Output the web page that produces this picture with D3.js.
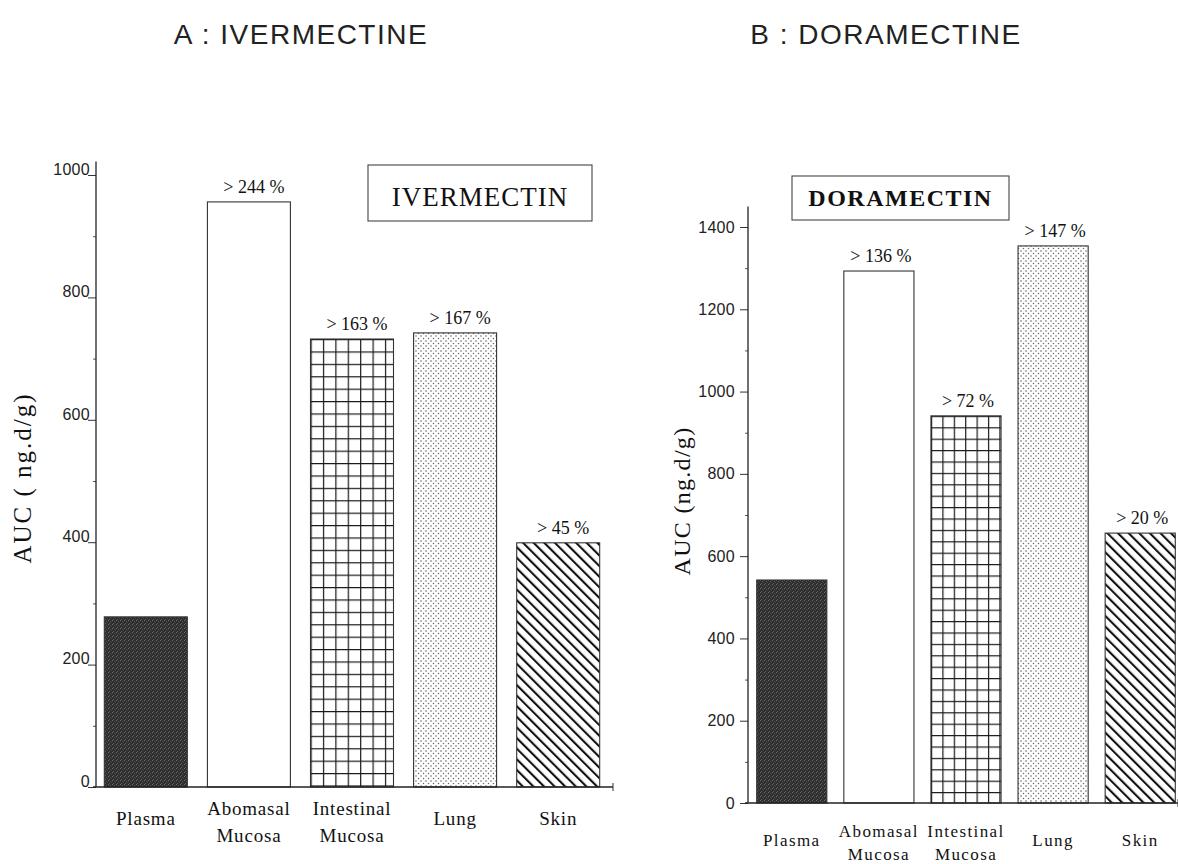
<!DOCTYPE html>
<html>
<head>
<meta charset="utf-8">
<script src="https://cdn.jsdelivr.net/npm/d3@7"></script>
<style>
  body { margin: 0; background: #fff; }
  svg { display: block; }
</style>
</head>
<body>
<script>
// data
const categories = [["Plasma"], ["Abomasal", "Mucosa"], ["Intestinal", "Mucosa"], ["Lung"], ["Skin"]]
const ivermectinAUC = [278, 956, 732, 742, 399]
const ivermectinPct = [null, "> 244 %", "> 163 %", "> 167 %", "> 45 %"]
const ivermectinTicks = [0, 200, 400, 600, 800, 1000]
const ivermectinMinor = [100, 300, 500, 700, 900]
const doramectinAUC = [542, 1293, 941, 1354, 656]
const doramectinPct = [null, "> 136 %", "> 72 %", "> 147 %", "> 20 %"]
const doramectinTicks = [0, 200, 400, 600, 800, 1000, 1200, 1400]
const doramectinMinor = [100, 300, 500, 700, 900, 1100, 1300]

const svg = d3.select('body').append('svg')
    .attr('width', 1178)
    .attr('height', 864)

const defs = svg.append('defs')
const serif = "'Liberation Serif', 'Times New Roman', serif"
const sans = "'Liberation Sans', Arial, sans-serif"

// dark speckled fill (plasma)
const speckle = defs.append('pattern').attr('id', 'speckle')
    .attr('patternUnits', 'userSpaceOnUse').attr('width', 4).attr('height', 4)
speckle.append('rect').attr('width', 4).attr('height', 4).attr('fill', '#2e2e2e')
;[[0, 0, '#6e6e6e'], [2, 1, '#555'], [1, 3, '#616161'], [3, 2, '#444']].forEach(([px, py, c]) => {
    speckle.append('rect').attr('x', px).attr('y', py).attr('width', 1).attr('height', 1).attr('fill', c)
})

// dotted fill (lung)
const dots = defs.append('pattern').attr('id', 'dots')
    .attr('patternUnits', 'userSpaceOnUse').attr('width', 5).attr('height', 5)
dots.append('rect').attr('width', 5).attr('height', 5).attr('fill', '#fff')
dots.append('circle').attr('cx', 1).attr('cy', 1).attr('r', 0.75).attr('fill', '#555')
dots.append('circle').attr('cx', 3.5).attr('cy', 3.5).attr('r', 0.75).attr('fill', '#666')

function drawPanel(cfg) {
    const g = svg.append('g')

    const x = d3.scaleBand()
        .domain(categories.map(c => c.join(' ')))
        .range(cfg.xRange)
        .paddingInner(0.195)
        .paddingOuter(0.1)

    const y = d3.scaleLinear()
        .domain([0, cfg.yMax])
        .range(cfg.yRange)

    const rows = cfg.values.map((v, i) => ({key: categories[i].join(' '), lines: categories[i], value: v, pct: cfg.pct[i], i}))

    // grid + hatch patterns anchored on this panel's bars
    const grid = defs.append('pattern').attr('id', 'grid-' + cfg.id)
        .attr('patternUnits', 'userSpaceOnUse')
        .attr('x', x(rows[2].key)).attr('y', y(rows[2].value))
        .attr('width', cfg.gridStep).attr('height', cfg.gridStep)
    grid.append('rect').attr('width', cfg.gridStep).attr('height', cfg.gridStep).attr('fill', '#fff')
    grid.append('path')
        .attr('d', `M0,0.6H${cfg.gridStep}M0.6,0V${cfg.gridStep}`)
        .attr('stroke', '#1a1a1a').attr('stroke-width', 1.2)

    const diag = defs.append('pattern').attr('id', 'diag-' + cfg.id)
        .attr('patternUnits', 'userSpaceOnUse')
        .attr('width', 7.5).attr('height', 7.5)
        .attr('patternTransform', 'rotate(-45)')
    diag.append('rect').attr('width', 7.5).attr('height', 7.5).attr('fill', '#fff')
    diag.append('line').attr('x1', 1).attr('x2', 1).attr('y1', 0).attr('y2', 7.5)
        .attr('stroke', '#111').attr('stroke-width', 2.2)

    const fills = ['url(#speckle)', '#fff', `url(#grid-${cfg.id})`, 'url(#dots)', `url(#diag-${cfg.id})`]

    // axes
    const yAxis = g.append('g')
        .attr('transform', `translate(${cfg.axisX},0)`)
        .call(d3.axisLeft(y).tickValues(cfg.ticks).tickFormat(d3.format('d'))
            .tickSize(cfg.tickSize).tickPadding(cfg.tickPadding))
    yAxis.select('.domain').remove()
    yAxis.selectAll('.tick line').attr('stroke', '#333')
    yAxis.selectAll('.tick text')
        .attr('dy', cfg.tickDy)
        .style('font-family', sans)
        .style('font-size', cfg.tickFont + 'px')
        .style('letter-spacing', '0.3px')
        .attr('fill', '#222')

    const minor = g.append('g')
        .attr('transform', `translate(${cfg.axisX},0)`)
        .call(d3.axisLeft(y).tickValues(cfg.minor).tickSize(3).tickFormat(''))
    minor.select('.domain').remove()
    minor.selectAll('.tick line').attr('stroke', '#555')

    g.append('line')
        .attr('x1', cfg.axisX).attr('x2', cfg.axisX)
        .attr('y1', y(0)).attr('y2', y(cfg.axisTop))
        .attr('stroke', '#222').attr('stroke-width', 1.3)

    // bars
    g.selectAll('rect.bar')
        .data(rows)
        .join('rect')
        .attr('class', 'bar')
        .attr('x', d => x(d.key))
        .attr('y', d => y(d.value))
        .attr('width', x.bandwidth())
        .attr('height', d => y(0) - y(d.value))
        .attr('fill', d => fills[d.i])
        .attr('stroke', '#333')
        .attr('stroke-width', 1.1)

    // baseline
    g.append('line')
        .attr('x1', cfg.axisX - 3).attr('x2', cfg.xAxisEnd)
        .attr('y1', y(0)).attr('y2', y(0))
        .attr('stroke', '#222').attr('stroke-width', 1.3)
    g.append('line')
        .attr('x1', cfg.xAxisEnd).attr('x2', cfg.xAxisEnd)
        .attr('y1', y(0) - 4).attr('y2', y(0) + 4)
        .attr('stroke', '#333')

    // percent labels
    g.selectAll('text.pct')
        .data(rows.filter(d => d.pct))
        .join('text')
        .attr('class', 'pct')
        .attr('x', d => x(d.key) + x.bandwidth() / 2 + cfg.pctDx)
        .attr('y', d => y(d.value) - 9)
        .attr('text-anchor', 'middle')
        .style('font-family', serif)
        .style('font-size', '18px')
        .attr('fill', '#111')
        .text(d => d.pct)

    // category labels
    rows.forEach(d => {
        const cx = x(d.key) + x.bandwidth() / 2
        const t = g.append('text')
            .attr('text-anchor', 'middle')
            .style('font-family', serif)
            .style('font-size', cfg.catFont + 'px')
            .style('letter-spacing', cfg.catSpacing + 'px')
            .attr('fill', '#111')
        if (d.lines.length === 1) {
            t.append('tspan').attr('x', cx).attr('y', cfg.catY1).text(d.lines[0])
        } else {
            t.append('tspan').attr('x', cx).attr('y', cfg.catY2[0]).text(d.lines[0])
            t.append('tspan').attr('x', cx).attr('y', cfg.catY2[1]).text(d.lines[1])
        }
    })

    // y axis title
    g.append('text')
        .attr('transform', `translate(${cfg.yTitleX},${cfg.yTitleY}) rotate(-90)`)
        .attr('text-anchor', 'middle')
        .style('font-family', serif)
        .style('font-size', cfg.yTitleFont + 'px')
        .style('letter-spacing', cfg.yTitleSpacing + 'px')
        .attr('fill', '#111')
        .text(cfg.yTitle)

    // boxed drug name
    const box = cfg.box
    g.append('rect')
        .attr('x', box.x).attr('y', box.y)
        .attr('width', box.w).attr('height', box.h)
        .attr('fill', '#fff')
        .attr('stroke', '#444').attr('stroke-width', 1.1)
    g.append('text')
        .attr('x', box.x + box.w / 2).attr('y', box.baseline)
        .attr('text-anchor', 'middle')
        .style('font-family', serif)
        .style('font-size', box.font + 'px')
        .style('font-weight', box.weight)
        .style('letter-spacing', box.spacing + 'px')
        .attr('fill', '#111')
        .text(box.label)

    // panel heading
    svg.append('text')
        .attr('x', cfg.headX).attr('y', 44)
        .attr('text-anchor', 'middle')
        .style('font-family', sans)
        .style('font-size', '28px')
        .style('letter-spacing', '1.5px')
        .attr('fill', '#222')
        .text(cfg.heading)
}

drawPanel({
    id: 'A',
    heading: 'A : IVERMECTINE',
    headX: 301,
    values: ivermectinAUC,
    pct: ivermectinPct,
    pctDx: 5,
    ticks: ivermectinTicks,
    minor: ivermectinMinor,
    yMax: 1000,
    yRange: [787, 175],
    axisTop: 1022,
    axisX: 96,
    xRange: [94, 610],
    xAxisEnd: 613,
    tickSize: 8,
    tickPadding: -2,
    tickDy: '-0.05em',
    tickFont: 16,
    gridStep: 12.4,
    catFont: 19,
    catSpacing: 0.8,
    catY1: 825,
    catY2: [815, 842],
    yTitle: 'AUC ( ng.d/g)',
    yTitleX: 31,
    yTitleY: 478,
    yTitleFont: 25,
    yTitleSpacing: 2,
    box: {x: 368, y: 165, w: 224, h: 56, baseline: 206, label: 'IVERMECTIN', font: 27, weight: 'normal', spacing: 1}
})

drawPanel({
    id: 'B',
    heading: 'B : DORAMECTINE',
    headX: 886,
    values: doramectinAUC,
    pct: doramectinPct,
    pctDx: 2,
    ticks: doramectinTicks,
    minor: doramectinMinor,
    yMax: 1400,
    yRange: [803, 227],
    axisTop: 1450,
    axisX: 748,
    xRange: [748, 1184],
    xAxisEnd: 1178,
    tickSize: 8,
    tickPadding: 5,
    tickDy: '0.32em',
    tickFont: 16,
    gridStep: 11.4,
    catFont: 17,
    catSpacing: 1.4,
    catY1: 846,
    catY2: [837, 860],
    yTitle: 'AUC (ng.d/g)',
    yTitleX: 690,
    yTitleY: 501,
    yTitleFont: 24,
    yTitleSpacing: 1.3,
    box: {x: 792, y: 176, w: 217, h: 44, baseline: 206, label: 'DORAMECTIN', font: 24, weight: 'bold', spacing: 1.5}
})
</script>
</body>
</html>
